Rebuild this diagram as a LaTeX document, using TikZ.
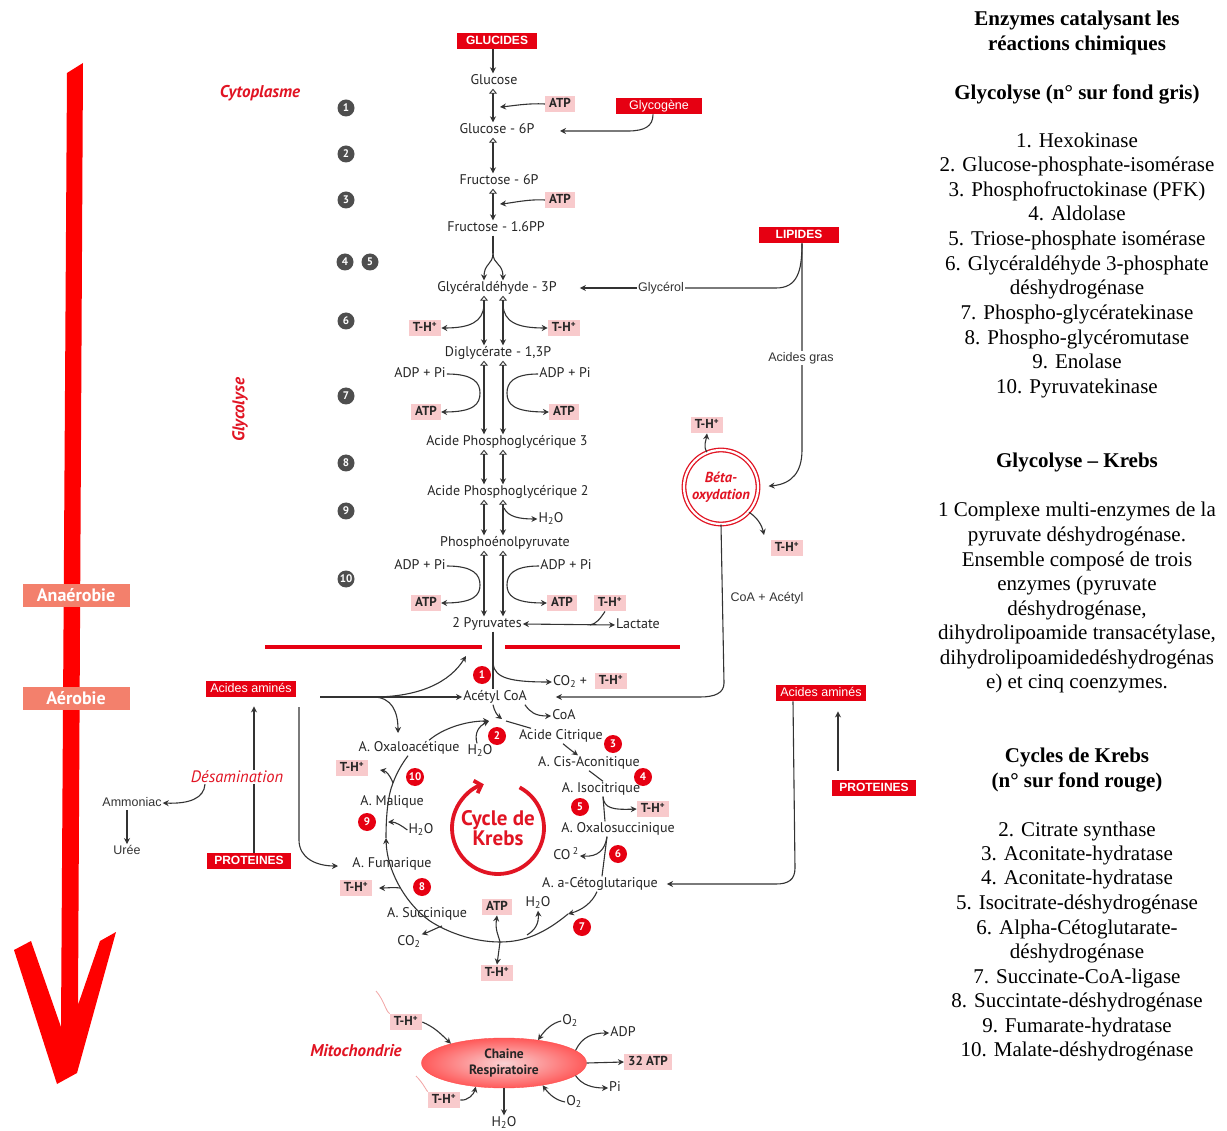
\documentclass[tikz,border=0pt]{standalone}
\usepackage{fontspec}
\setmainfont{Liberation Serif}
\newfontfamily\dfont{PT Sans}
\newfontfamily\afont{Liberation Sans}
\usetikzlibrary{arrows.meta,shapes.geometric}
\definecolor{boxred}{RGB}{230,0,18}
\definecolor{boxpink}{RGB}{248,202,204}
\definecolor{txtred}{RGB}{225,20,35}
\definecolor{ink}{RGB}{51,51,51}
\definecolor{badgegrey}{RGB}{78,78,78}
\definecolor{phase}{RGB}{243,128,108}
\definecolor{bigred}{RGB}{255,0,0}
\definecolor{decopink}{RGB}{242,165,165}

\tikzset{
  lab/.style={font=\dfont\fontsize{14}{16}\selectfont, inner sep=1pt, text height=10pt, text depth=3pt, text=black!85},
  alab/.style={font=\afont\fontsize{12.5}{14}\selectfont, inner sep=1pt, text height=9pt, text depth=2.5pt, text=ink},
  redtag/.style={fill=boxred, text=white, font=\afont\fontsize{12.5}{14}\selectfont, inner xsep=4pt, inner ysep=2.5pt, text height=9pt, text depth=2.5pt},
  redtagb/.style={redtag, font=\afont\bfseries\fontsize{12}{14}\selectfont},
  pinktag/.style={fill=boxpink, text=black!85, font=\dfont\bfseries\fontsize{13}{15}\selectfont, inner xsep=4pt, inner ysep=2.5pt, text height=9.5pt, text depth=2pt},
  gbadge/.style={circle, fill=badgegrey, text=white, font=\dfont\bfseries\fontsize{11}{11}\selectfont, inner sep=0pt, minimum size=17pt},
  rbadge/.style={circle, fill=boxred, text=white, font=\dfont\bfseries\fontsize{11}{11}\selectfont, inner sep=0pt, minimum size=18pt},
  flow/.style={draw=ink, line width=1.1pt, -{Stealth[length=6pt,width=6pt]}},
  plain/.style={draw=ink, line width=1.1pt},
  rev/.style={draw=ink, line width=1.1pt, {Triangle[open,length=5pt,width=8pt,line width=0.9pt]}-{Stealth[length=6pt,width=6pt]}},
  redit/.style={text=txtred, font=\dfont\bfseries\itshape\fontsize{17}{19}\selectfont, inner sep=1pt},
  phasetag/.style={fill=phase, text=white, font=\dfont\bfseries\fontsize{18}{19}\selectfont, minimum width=107pt, minimum height=23pt, inner sep=0pt},
  note/.style={font=\fontsize{21}{24}\selectfont, inner sep=0pt, anchor=base},
  notebf/.style={note, font=\bfseries\fontsize{21}{24}\selectfont},
}

\begin{document}
\begin{tikzpicture}[x=1pt,y=-1pt]
\useasboundingbox (0,0) rectangle (1227,1131);
\fill[white] (0,0) rectangle (1227,1131);

% ---------- time arrow on the left ----------
\fill[bigred] (67,73) -- (83,63) -- (78,1005) -- (100,941) -- (116,932) -- (77,1073)
  -- (57,1084) -- (14,950) -- (31,941) -- (61,1027) -- cycle;
\node[phasetag] (anaer) at (76,595) {Anaérobie};
\node[phasetag] (aer) at (76,698) {Aérobie};

\node[redit] (cyto) at (260,93) {Cytoplasme};
\node[redit, rotate=90] (glyco) at (240,410) {Glycolyse};
\node[redit] (mito) at (356,1051) {Mitochondrie};

% ---------- glycolysis ----------
\coordinate (cM) at (493,0);
\coordinate (cL) at (484,0);
\coordinate (cR) at (503,0);

\node[redtagb, inner xsep=9pt] (glucides) at (497,41) {GLUCIDES};
\node[lab] (glucose) at (494,81) {Glucose};
\node[pinktag] (atp1) at (560,104) {ATP};
\node[redtag, inner xsep=13pt] (glycogene) at (659,106) {Glycogène};
\node[lab] (g6p) at (497,130) {Glucose - 6P};
\node[lab] (f6p) at (499,181) {Fructose - 6P};
\node[pinktag] (atp2) at (560,200) {ATP};
\node[lab] (f16) at (496,228) {Fructose - 1.6PP};
\node[lab] (g3p) at (497,288) {Glycéraldéhyde - 3P};
\node[alab] (glycerol) at (661,288) {Glycérol};
\node[redtagb, inner xsep=17pt] (lipides) at (799,235) {LIPIDES};
\node[pinktag] (th6l) at (425,328) {T-H\textsuperscript{+}};
\node[pinktag] (th6r) at (564,328) {T-H\textsuperscript{+}};
\node[lab] (digly) at (498,353) {Diglycérate - 1,3P};
\node[lab] (adp7l) at (420,374) {ADP + Pi};
\node[lab] (adp7r) at (565,374) {ADP + Pi};
\node[pinktag] (atp7l) at (426,412) {ATP};
\node[pinktag] (atp7r) at (564,412) {ATP};
\node[lab] (apg3) at (507,442) {Acide Phosphoglycérique 3};
\node[lab] (apg2) at (508,492) {Acide Phosphoglycérique 2};
\node[lab] (h2og) at (551,519) {H\textsubscript{2}O};
\node[lab] (pep) at (505,543) {Phosphoénolpyruvate};
\node[lab] (adp10l) at (420,566) {ADP + Pi};
\node[lab] (adp10r) at (566,566) {ADP + Pi};
\node[pinktag] (atp10l) at (426,603) {ATP};
\node[pinktag] (atp10r) at (562,603) {ATP};
\node[pinktag] (th10) at (610,603) {T-H\textsuperscript{+}};
\node[lab] (pyr) at (487,624) {2 Pyruvates};
\node[lab] (lactate) at (638,625) {Lactate};

\foreach \n/\xx/\yy in {1/346/108, 2/346/154, 3/346/200, 4/345/262, 5/370/262,
  6/346/321, 7/346/396, 8/346/463, 9/346/511, 10/346/579}
  \node[gbadge] (gb\n) at (\xx,\yy) {\n};

\draw[flow] (glucides.south -| cM) -- (glucose.north -| cM);
\draw[rev] (glucose.south -| cM) -- (g6p.north -| cM);
\draw[rev] (g6p.south -| cM) -- (f6p.north -| cM);
\draw[rev] (f6p.south -| cM) -- (f16.north -| cM);
\coordinate (in1) at (500,107);
\draw[flow] (atp1.west) .. controls (528,103) and (512,106) .. (in1);
\coordinate (in3) at (500,204);
\draw[flow] (atp2.west) .. controls (528,199) and (512,203) .. (in3);
\coordinate (gg) at (560,131);
\draw[flow] ([xshift=-6pt]glycogene.south) .. controls (653,126) and (645,131) .. (628,131) -- (gg);

\coordinate (split) at (493,253);
\draw[plain] (f16.south -| cM) -- (split);
\draw[flow] (split) .. controls (493,265) and (484,263) .. (g3p.north -| cL);
\draw[flow] (split) .. controls (493,265) and (503,263) .. (g3p.north -| cR);

\draw[rev] (g3p.south -| cL) -- (digly.north -| cL);
\draw[rev] (g3p.south -| cR) -- (digly.north -| cR);
\coordinate (b6l) at (484,305);
\coordinate (b6r) at (503,305);
\draw[flow] (b6l) .. controls (483,322) and (470,328) .. (th6l.east);
\draw[flow] (b6r) .. controls (504,322) and (517,328) .. (th6r.west);

\draw[rev] (digly.south -| cL) -- (apg3.north -| cL);
\draw[rev] (digly.south -| cR) -- (apg3.north -| cR);
\draw[flow] (adp7l.east) .. controls (474,374) and (480,383) .. (480,393) .. controls (480,404) and (474,412) .. (atp7l.east);
\draw[flow] (adp7r.west) .. controls (513,374) and (507,383) .. (507,393) .. controls (507,404) and (513,412) .. (atp7r.west);

\draw[rev] (apg3.south -| cL) -- (apg2.north -| cL);
\draw[rev] (apg3.south -| cR) -- (apg2.north -| cR);

\draw[rev] (apg2.south -| cL) -- (pep.north -| cL);
\draw[rev] (apg2.south -| cR) -- (pep.north -| cR);
\coordinate (b9) at (504,508);
\draw[flow] (b9) .. controls (508,517) and (520,519) .. (h2og.west);

\draw[rev] (pep.south -| cL) -- (pyr.north -| cL);
\draw[rev] (pep.south -| cR) -- (pyr.north -| cR);
\draw[flow] (adp10l.east) .. controls (474,566) and (480,575) .. (480,585) .. controls (480,595) and (474,603) .. (atp10l.east);
\draw[flow] (adp10r.west) .. controls (513,566) and (507,575) .. (507,585) .. controls (507,595) and (513,603) .. (atp10r.west);

\draw[draw=ink, line width=1.1pt, {Stealth[length=6pt,width=6pt]}-{Stealth[length=6pt,width=6pt]}] (pyr.east) -- (lactate.west);
\coordinate (lac) at (590,625);
\draw[plain] ([xshift=-5pt]th10.south) .. controls (600,619) and (596,624) .. (lac);

% ---------- boundary between cytoplasm and mitochondria ----------
\draw[draw=boxred, line width=4.5pt] (265,647) -- (482,647);
\draw[draw=boxred, line width=4.5pt] (505,647) -- (680,647);

% ---------- lipids ----------
\node[circle, draw=txtred, line width=1.3pt, double=white, double distance=2.2pt, minimum size=74pt, inner sep=0pt,
  align=center, text=txtred, font=\dfont\bfseries\itshape\fontsize{14.5}{17}\selectfont] (beta) at (721,487) {Béta-\\oxydation};
\node[pinktag] (thb1) at (707,425) {T-H\textsuperscript{+}};
\node[pinktag] (thb2) at (787,548) {T-H\textsuperscript{+}};
\coordinate (lipdown) at (802,450);
\draw[plain] ([xshift=3pt]lipides.south) .. controls (802,272) and (797,288) .. (776,288) -- (glycerol.east);
\draw[flow, shorten >=22pt] (glycerol.west) -- (g3p.east);
\draw[flow, shorten >=10pt] ([xshift=3pt]lipides.south) -- (lipdown) .. controls (802,472) and (792,484) .. (beta.east);
\node[alab, fill=white] (gras) at (801,358) {Acides gras};
\draw[flow] (beta.112) .. controls (703,446) and (706,441) .. (thb1.south);
\coordinate (tb2) at (764,535);
\draw[flow] (beta.-42) .. controls (758,518) and (762,526) .. (tb2);

% ---------- pyruvate to acetyl-CoA ----------
\coordinate (cP) at (493,0);
\node[rbadge] (r1) at (482,675) {1};
\node[lab] (acetyl) at (495,697) {Acétyl CoA};
\node[lab] (co2p) at (570,682) {CO\textsubscript{2} +};
\node[pinktag] (thp) at (611,681) {T-H\textsuperscript{+}};
\draw[plain] (pyr.south -| cP) -- (acetyl.north -| cP);
\coordinate (bco) at (493,664);
\draw[flow] (bco) .. controls (495,678) and (510,682) .. (co2p.west);
\node[alab] (coaac) at (767,598) {CoA + Acétyl};
\coordinate (turn) at (724,683);
\draw[flow, shorten >=28pt] (beta.south) -- (turn) .. controls (724,693) and (715,697) .. (700,697) -- (acetyl.east);

% ---------- amino acids ----------
\node[redtag] (aal) at (251,689) {Acides aminés};
\node[redtagb, inner xsep=7pt] (protl) at (249,861) {PROTEINES};
\node[text=txtred, font=\dfont\itshape\fontsize{16.5}{18}\selectfont, inner sep=1pt] (desam) at (237,777) {Désamination};
\node[alab] (ammoniac) at (132,803) {Ammoniac};
\node[alab] (uree) at (127,851) {Urée};
\coordinate (vx) at (254,0);
\draw[plain] (protl.north -| vx) -- (desam.south -| vx);
\draw[flow, shorten >=9pt] (desam.north -| vx) -- (aal.south -| vx);
\draw[flow] ([xshift=-32pt]desam.south) .. controls (204,798) and (190,804) .. (ammoniac.east);
\draw[flow] (ammoniac.south -| uree) -- (uree.north);

\coordinate (aa0) at (320,697);
\coordinate (aab) at (373,697);
\coordinate (upb) at (466,656);
\coordinate (dnb) at (398,733);
\draw[flow] (aa0) -- (acetyl.west);
\draw[flow] (aab) .. controls (420,697) and (450,682) .. (upb);
\draw[flow] (aab) .. controls (392,697) and (398,712) .. (dnb);
\coordinate (lv0) at (299,707);
\coordinate (lv1) at (299,840);
\coordinate (fw) at (338,866);
\draw[flow] (lv0) -- (lv1) .. controls (299,858) and (316,866) .. (fw);

\node[redtag] (aar) at (821,693) {Acides aminés};
\node[redtagb, inner xsep=7pt] (protr) at (874,788) {PROTEINES};
\draw[flow, shorten <=9pt, shorten >=10pt] ([xshift=-36pt]protr.north) -- ([xshift=17pt]aar.south);

% ---------- Krebs cycle ----------
\node[lab] (coa) at (564,716) {CoA};
\node[lab] (citrique) at (561,736) {Acide Citrique};
\node[lab] (oxalo) at (409,748) {A. Oxaloacétique};
\node[lab] (h2oa) at (480,751) {H\textsubscript{2}O};
\node[lab] (cis) at (589,763) {A. Cis-Aconitique};
\node[lab] (iso) at (601,789) {A. Isocitrique};
\node[pinktag] (th4) at (653,809) {T-H\textsuperscript{+}};
\node[lab] (oxs) at (618,829) {A. Oxalosuccinique};
\node[lab] (co6) at (566,856) {CO\,\textsuperscript{2}};
\node[lab] (aceto) at (600,884) {A. a-Cétoglutarique};
\node[lab] (succ) at (427,914) {A. Succinique};
\node[pinktag] (atpk) at (497,907) {ATP};
\node[lab] (h2ok) at (538,903) {H\textsubscript{2}O};
\node[lab] (co2k) at (409,942) {CO\textsubscript{2}};
\node[pinktag] (thk) at (497,973) {T-H\textsuperscript{+}};
\node[lab] (fumar) at (392,864) {A. Fumarique};
\node[pinktag] (th8) at (356,888) {T-H\textsuperscript{+}};
\node[lab] (malique) at (392,802) {A. Malique};
\node[lab] (h2o9k) at (421,830) {H\textsubscript{2}O};
\node[pinktag] (th10k) at (352,768) {T-H\textsuperscript{+}};

\foreach \n/\xx/\yy in {2/497/736, 3/613/744, 4/643/777, 5/580/807, 6/618/854,
  7/582/927, 8/422/887, 9/367/822, 10/415/777}
  \node[rbadge] (rb\n) at (\xx,\yy) {\n};

\coordinate (merge) at (489,721);
\coordinate (acdn) at (502,719);
\coordinate (mg2) at (506,721);
\draw[flow] ([xshift=20pt]oxalo.north) .. controls (442,729) and (465,721) .. (merge);
\draw[flow] ([xshift=-3pt]h2oa.north) .. controls (474,733) and (479,726) .. (merge);
\draw[flow] (acetyl.south -| cP) .. controls (494,711) and (498,716) .. (acdn);
\draw[plain] (mg2) -- ([xshift=-30pt]citrique.north);
\draw[flow] ([xshift=-3pt]acetyl.south east) .. controls (530,712) and (535,716) .. (coa.west);
\draw[flow] ([xshift=2pt]citrique.south) .. controls (568,748) and (572,751) .. ([xshift=-11pt]cis.north);
\draw[plain] (cis.south) -- ([xshift=2pt]iso.north);
\draw[plain] ([xshift=2pt]iso.south) -- ([xshift=-13pt]oxs.north);
\draw[flow] ([xshift=2pt]iso.south) .. controls (604,808) and (612,810) .. (th4.west);
\draw[plain] ([xshift=-11pt]oxs.south) -- ([xshift=2pt]aceto.north);
\draw[flow] ([xshift=-11pt]oxs.south) .. controls (605,850) and (598,857) .. (co6.east);

\coordinate (k7) at (568,914);
\coordinate (kh) at (527,935);
\coordinate (kb) at (500,942);
\coordinate (kc) at (442,926);
\coordinate (ks) at (430,921);
\coordinate (k8) at (400,888);
\coordinate (kfa) at (386,838);
\coordinate (k9) at (388,822);
\coordinate (k10) at (393,783);
\coordinate (th8in) at (379,888);
\coordinate (th10in) at (380,770);
\draw[flow] ([xshift=-3pt]aceto.south) .. controls (592,903) and (582,910) .. (k7);
\draw[plain] (k7) .. controls (545,933) and (525,942) .. (kb) .. controls (472,942) and (445,931) .. (ks);
\draw[flow] (ks) .. controls (408,906) and (387,873) .. (kfa);
\draw[plain] (kfa) .. controls (386,815) and (388,795) .. (k10) .. controls (397,772) and (402,764) .. ([xshift=-1pt]oxalo.south);
\draw[flow] (h2o9k.west) .. controls (402,826) and (396,822) .. (k9);
\draw[flow] (k10) .. controls (390,775) and (386,771) .. (th10in);
\draw[flow] (k8) .. controls (394,887) and (388,888) .. (th8in);
\draw[flow] (kb) .. controls (498,934) and (495,930) .. (atpk.south);
\draw[flow] (kh) .. controls (535,930) and (539,924) .. (h2ok.south);
\draw[flow] (kb) -- (thk.north);
\draw[flow] (kc) .. controls (434,929) and (429,932) .. (co2k.north east);

\node[align=center, text=txtred, font=\dfont\bfseries\fontsize{21}{19}\selectfont, inner sep=0pt] (krebs) at (498,828) {Cycle de\\Krebs};
\draw[draw=txtred, line width=3.8pt, -{Straight Barb[length=6pt,width=13pt]}]
  ([shift={(-62:46)}]krebs.center) arc[start angle=-62, end angle=252, radius=46];

\draw[flow, shorten >=8pt] ([xshift=-28pt]aar.south) -- (795,868) .. controls (795,880) and (788,884) .. (776,884) -- (aceto.east);

% ---------- respiratory chain ----------
\node[ellipse, minimum width=165pt, minimum height=50pt, inner sep=0pt, draw=red!70!white, line width=0.4pt,
  inner color=boxpink!85!white, outer color=red!65!white, align=center,
  font=\dfont\bfseries\fontsize{13.5}{16}\selectfont, text=black!85] (chain) at (504,1063) {Chaine\\Respiratoire};
\node[pinktag] (thc1) at (406,1022) {T-H\textsuperscript{+}};
\node[pinktag] (thc2) at (444,1100) {T-H\textsuperscript{+}};
\node[lab] (o2a) at (570,1021) {O\textsubscript{2}};
\node[lab] (o2b) at (574,1102) {O\textsubscript{2}};
\node[lab] (adp) at (623,1033) {ADP};
\node[pinktag] (atp32) at (648,1062) {32 ATP};
\node[lab] (pi) at (615,1088) {Pi};
\node[lab] (h2oc) at (504,1123) {H\textsubscript{2}O};
\draw[draw=decopink, line width=0.8pt] (376,991) .. controls (384,1000) and (386,1012) .. (thc1.north west);
\draw[draw=decopink, line width=0.8pt] (416,1076) .. controls (424,1084) and (427,1092) .. (thc2.north west);
\draw[flow] (thc1.east) .. controls (434,1027) and (440,1033) .. (chain.160);
\draw[flow] (thc2.east) .. controls (468,1101) and (474,1094) .. (chain.220);
\draw[flow] (o2a.west) .. controls (552,1023) and (545,1030) .. (chain.34);
\draw[flow] (o2b.west) .. controls (555,1100) and (549,1094) .. (chain.-30);
\draw[flow] (chain.10) .. controls (582,1037) and (592,1033) .. (adp.west);
\draw[flow] (chain.east) -- (atp32.west);
\draw[flow] (chain.-10) .. controls (582,1085) and (592,1088) .. (pi.west);
\draw[flow] (chain.south) -- (h2oc.north);

% ---------- enzyme list ----------
\foreach \yy/\txt in {19/{Enzymes catalysant les}, 44/{réactions chimiques},
  93/{Glycolyse (n° sur fond gris)}, 461/{Glycolyse – Krebs},
  755/{Cycles de Krebs}, 780/{(n° sur fond rouge)}}
  \node[notebf] (head\yy) at (1077,\yy+7) {\txt};
\foreach \yy/\txt in {141/{1. Hexokinase}, 165/{2. Glucose-phosphate-isomérase},
  190/{3. Phosphofructokinase (PFK)}, 214/{4. Aldolase}, 239/{5. Triose-phosphate isomérase},
  264/{6. Glycéraldéhyde 3-phosphate}, 288/{déshydrogénase}, 313/{7. Phospho-glycératekinase},
  338/{8. Phospho-glycéromutase}, 362/{9. Enolase}, 387/{10. Pyruvatekinase},
  510/{1 Complexe multi-enzymes de la}, 534/{pyruvate déshydrogénase.},
  559/{Ensemble composé de trois}, 583/{enzymes (pyruvate}, 608/{déshydrogénase,},
  632/{dihydrolipoamide transacétylase,}, 657/{dihydrolipoamidedéshydrogénas},
  681/{e) et cinq coenzymes.},
  829/{2. Citrate synthase}, 853/{3. Aconitate-hydratase}, 877/{4. Aconitate-hydratase},
  902/{5. Isocitrate-déshydrogénase}, 927/{6. Alpha-Cétoglutarate-}, 951/{déshydrogénase},
  976/{7. Succinate-CoA-ligase}, 1000/{8. Succintate-déshydrogénase},
  1025/{9. Fumarate-hydratase}, 1049/{10. Malate-déshydrogénase}}
  \node[note] (line\yy) at (1077,\yy+7) {\txt};
\end{tikzpicture}
\end{document}
